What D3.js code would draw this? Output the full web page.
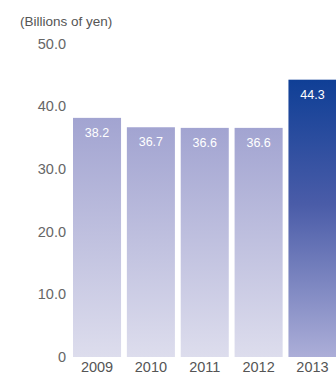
<!DOCTYPE html>
<html>
<head>
<meta charset="utf-8">
<script src="https://cdn.jsdelivr.net/npm/d3@7"></script>
<style>
  body { margin: 0; background: #fff; }
  svg { display: block; font-family: "Liberation Sans", Arial, sans-serif; }
</style>
</head>
<body>
<svg id="chart"></svg>
<script>
var years = ["2009", "2010", "2011", "2012", "2013"];
var values = [38.2, 36.7, 36.6, 36.6, 44.3];
var ticks = [0, 10, 20, 30, 40, 50];

var w = 336;
var h = 376;

var svg = d3.select("#chart")
  .attr("width", w)
  .attr("height", h);

var x = d3.scaleBand()
  .domain(years)
  .range([73, 336.5])
  .paddingInner(0.108)
  .paddingOuter(0);

var y = d3.scaleLinear()
  .domain([0, 50])
  .range([357, 44]);

// gradients
var defs = svg.append("defs");
var gPast = defs.append("linearGradient")
  .attr("id", "gPast")
  .attr("x1", 0).attr("y1", 0).attr("x2", 0).attr("y2", 1);
gPast.append("stop").attr("offset", "0%").attr("stop-color", "#a2a4d1");
gPast.append("stop").attr("offset", "100%").attr("stop-color", "#dddded");

var gLast = defs.append("linearGradient")
  .attr("id", "gLast")
  .attr("x1", 0).attr("y1", 0).attr("x2", 0).attr("y2", 1);
gLast.append("stop").attr("offset", "0%").attr("stop-color", "#0f3f96");
gLast.append("stop").attr("offset", "45%").attr("stop-color", "#4a5ca8");
gLast.append("stop").attr("offset", "100%").attr("stop-color", "#acaed8");

// unit label
svg.append("text")
  .attr("x", 20)
  .attr("y", 26)
  .attr("font-size", 13.5)
  .attr("fill", "#555")
  .text("(Billions of yen)");

// y axis
var yAxis = d3.axisLeft(y)
  .tickValues(ticks)
  .tickSize(0)
  .tickPadding(0)
  .tickFormat(function(d) { return d === 0 ? "0" : d3.format(".1f")(d); });

var ya = svg.append("g")
  .attr("transform", "translate(66,0)")
  .call(yAxis);
ya.select(".domain").remove();
ya.selectAll("text")
  .attr("font-size", 14.5)
  .attr("font-family", "'Liberation Sans', Arial, sans-serif")
  .attr("fill", "#666")
  .attr("dy", "0.3em");

// bars
var data = years.map(function(d, i) { return {year: d, value: values[i]}; });

svg.append("g")
  .selectAll("rect")
  .data(data)
  .enter()
  .append("rect")
  .attr("x", function(d) { return x(d.year); })
  .attr("y", function(d) { return y(d.value); })
  .attr("width", x.bandwidth())
  .attr("height", function(d) { return y(0) - y(d.value); })
  .attr("fill", function(d, i) { return i === years.length - 1 ? "url(#gLast)" : "url(#gPast)"; });

// value labels
svg.append("g")
  .selectAll("text")
  .data(data)
  .enter()
  .append("text")
  .attr("x", function(d) { return x(d.year) + x.bandwidth() / 2; })
  .attr("y", function(d) { return y(d.value) + 19; })
  .attr("text-anchor", "middle")
  .attr("font-size", 12.5)
  .attr("fill", "#fff")
  .text(function(d) { return d.value.toFixed(1); });

// x axis
var xAxis = d3.axisBottom(x).tickSize(0).tickPadding(0);
var xa = svg.append("g")
  .attr("transform", "translate(0,361)")
  .call(xAxis);
xa.select(".domain").remove();
xa.selectAll("text")
  .attr("font-size", 14.5)
  .attr("font-family", "'Liberation Sans', Arial, sans-serif")
  .attr("fill", "#555")
  .attr("dy", "0.75em");
</script>
</body>
</html>
